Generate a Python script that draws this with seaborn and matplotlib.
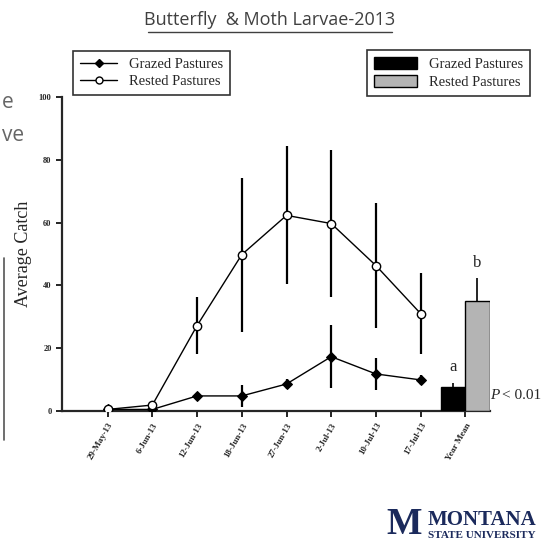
import numpy as np
import pandas as pd
import matplotlib.pyplot as plt
import seaborn as sns
from matplotlib.lines import Line2D
from matplotlib.patches import Patch

# sampling dates and catches
dates = ["29-May-13", "6-Jun-13", "12-Jun-13", "18-Jun-13", "27-Jun-13",
         "2-Jul-13", "10-Jul-13", "17-Jul-13"]
grazed = [0.5, 0.5, 4.8, 4.8, 8.6, 17.3, 11.8, 9.9]
grazed_err = [0.3, 0.3, 0.8, 3.5, 1.5, 10.0, 5.0, 1.5]
rested = [0.5, 1.9, 27.2, 49.8, 62.3, 59.7, 46.3, 31.0]
rested_err = [0.3, 0.5, 9.0, 24.5, 22.0, 23.5, 20.0, 13.0]
mean_labels = ["Grazed Pastures", "Rested Pastures"]
year_mean = [7.7, 35.1]
year_err = [1.3, 7.1]
letters = ["a", "b"]

sns.set_style("ticks")
plt.rcParams["font.family"] = ["Liberation Serif", "DejaVu Serif"]

df = pd.DataFrame({"pos": np.arange(len(dates)), "grazed": grazed, "rested": rested})

fig = plt.figure(figsize=(5.52, 5.48), dpi=100)
fig.patch.set_facecolor("white")
ax = fig.add_axes([0.1123, 0.25, 0.7754, 0.573])

# error bars first, lines on top
ax.errorbar(df["pos"], df["rested"], yerr=rested_err, fmt="none", ecolor="black",
            elinewidth=1.6, capsize=0, zorder=2)
ax.errorbar(df["pos"], df["grazed"], yerr=grazed_err, fmt="none", ecolor="black",
            elinewidth=1.6, capsize=0, zorder=2)
sns.lineplot(data=df, x="pos", y="grazed", ax=ax, color="black", lw=1.0,
             marker="D", markersize=5, markerfacecolor="black",
             markeredgecolor="black", zorder=3)
sns.lineplot(data=df, x="pos", y="rested", ax=ax, color="black", lw=1.0,
             marker="o", markersize=6, markerfacecolor="white",
             markeredgecolor="black", markeredgewidth=1.0, zorder=4)

# year mean bars
mpos = len(dates)
bw = 0.54
bar_x = [mpos - bw / 2, mpos + bw / 2]
ax.bar(bar_x, year_mean, width=bw, color=["black", "#b4b4b4"],
       edgecolor="black", linewidth=1.0, zorder=3)
ax.errorbar(bar_x, year_mean, yerr=[[0, 0], year_err], fmt="none", ecolor="black",
            elinewidth=1.2, capsize=0, zorder=2)
for bx, m, e, t in zip(bar_x, year_mean, year_err, letters):
    ax.text(bx, m + e + 2.5, t, ha="center", va="bottom", fontsize=12)
ax.text(mpos + bw + 0.02, 5, "P", fontsize=11, style="italic", va="center", ha="left")
ax.text(mpos + bw + 0.27, 5, "< 0.01", fontsize=11, va="center", ha="left")

ax.set_xlim(-1.02, mpos + bw + 0.01)
ax.set_ylim(0, 100)
ax.set_xticks(list(range(len(dates))) + [mpos])
ax.set_xticklabels(dates + ["Year Mean"], rotation=60, ha="right",
                   rotation_mode="anchor", fontsize=6.5, fontweight="bold")
ax.set_yticks([0, 20, 40, 60, 80, 100])
ax.set_yticklabels(["0", "20", "40", "60", "80", "100"], fontsize=6, fontweight="bold")
ax.tick_params(axis="both", direction="out", length=4, width=1.2, color="black")
ax.set_xlabel("")
ax.set_ylabel("Average Catch", fontsize=13, labelpad=5)
for s in ["top", "right"]:
    ax.spines[s].set_visible(False)
for s in ["left", "bottom"]:
    ax.spines[s].set_linewidth(1.6)
ax.set_facecolor("white")

h1 = [Line2D([0], [0], color="black", lw=1.0, marker="D", markersize=4,
             markerfacecolor="black"),
      Line2D([0], [0], color="black", lw=1.0, marker="o", markersize=5,
             markerfacecolor="white")]
leg1 = fig.legend(h1, ["Grazed Pastures", "Rested Pastures"], loc="upper left",
                  bbox_to_anchor=(73 / 552, 1 - 51 / 548), fontsize=10.5, frameon=True,
                  fancybox=False, edgecolor="black", handlelength=2.6,
                  borderpad=0.45, labelspacing=0.3, borderaxespad=0)
leg1.get_frame().set_linewidth(1.2)

h2 = [Patch(facecolor="black", edgecolor="black"),
      Patch(facecolor="#b4b4b4", edgecolor="black")]
leg2 = fig.legend(h2, mean_labels, loc="upper left",
                  bbox_to_anchor=(367 / 552, 1 - 50 / 548), fontsize=10.5, frameon=True,
                  fancybox=False, edgecolor="black", handlelength=3.0,
                  handleheight=0.9, borderpad=0.45, labelspacing=0.3, borderaxespad=0)
leg2.get_frame().set_linewidth(1.2)

# slide title (underlined)
fig.text(270 / 552, 1 - 20 / 548, "Butterfly  & Moth Larvae-2013", ha="center",
         va="center", fontsize=13, color="#404040", family=["Open Sans", "DejaVu Sans"])
fig.add_artist(Line2D([148 / 552, 392 / 552], [1 - 32 / 548, 1 - 32 / 548],
                      color="#404040", lw=1.0))

# clipped slide text at the left edge
fig.text(0.003, 1 - 102 / 548, "e", ha="left", va="center", fontsize=15,
         color="#666666", family=["Open Sans", "DejaVu Sans"])
fig.text(0.003, 1 - 135 / 548, "ve", ha="left", va="center", fontsize=15,
         color="#666666", family=["Open Sans", "DejaVu Sans"])
fig.add_artist(Line2D([4 / 552, 4 / 552], [1 - 258 / 548, 1 - 440 / 548],
                      color="#555555", lw=1.2))

# university logo
fig.text(386 / 552, 1 - 524 / 548, "M", ha="left", va="center", fontsize=27,
         fontweight="bold", color="#1b2a5c")
fig.text(428 / 552, 1 - 520 / 548, "MONTANA", ha="left", va="center", fontsize=15,
         fontweight="bold", color="#1b2a5c")
fig.text(428 / 552, 1 - 536 / 548, "STATE UNIVERSITY", ha="left", va="center",
         fontsize=8, fontweight="bold", color="#1b2a5c")

fig.savefig("out.png", dpi=100, facecolor="white")
